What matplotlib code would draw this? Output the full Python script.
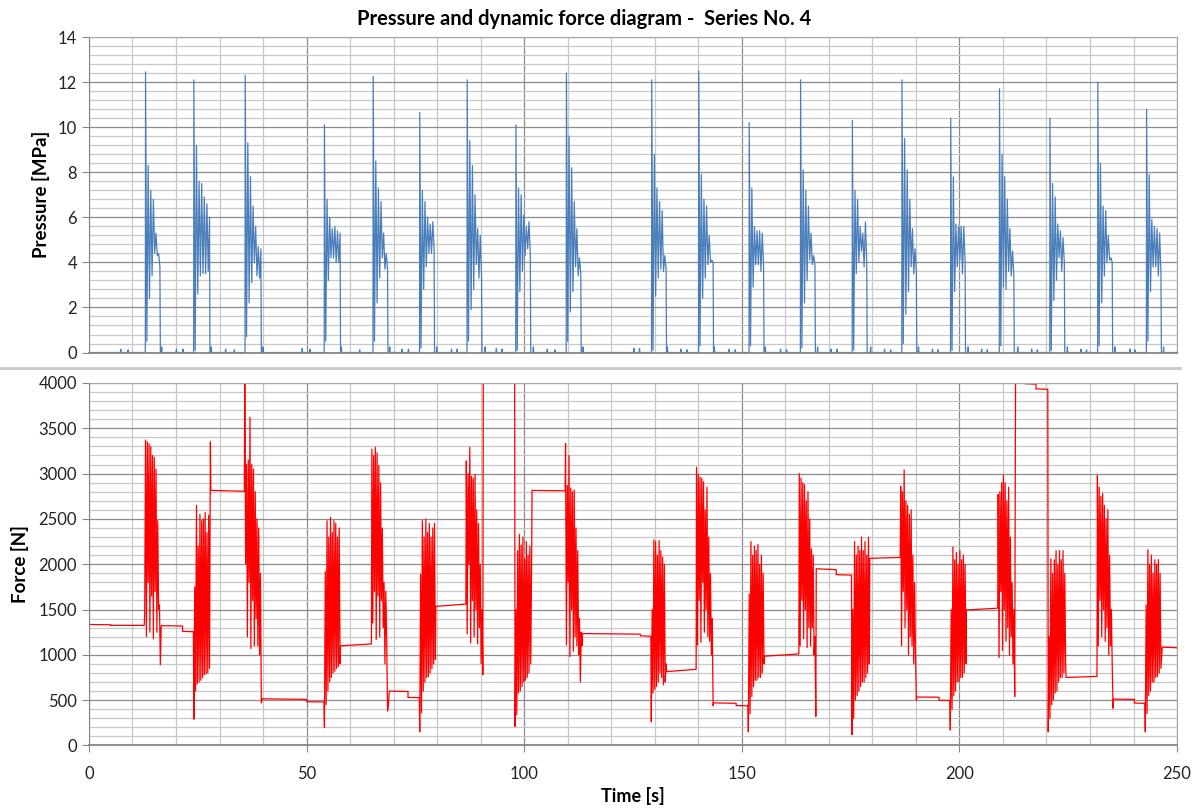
import numpy as np
import matplotlib.pyplot as plt
from matplotlib.lines import Line2D
from matplotlib.ticker import MultipleLocator

# ---- pressure data [MPa] ----
# burst start times [s] and sampled values (sample step 0.3 s)
p_start = [13.0, 24.1, 35.9, 54.1, 65.3, 76.0, 86.9, 98.1, 109.7, 129.3,
           140.1, 151.7, 163.5, 175.4, 186.8, 198.0, 209.2, 220.8, 231.8, 243.0]
p_bursts = [
    [12.45, 0.5, 8.3, 2.4, 7.2, 3.4, 6.8, 4.4, 5.3, 4.3, 4.4, 3.8],
    [12.1, 0.1, 9.2, 2.6, 7.6, 3.4, 7.5, 3.5, 6.9, 3.5, 6.6, 3.6, 6.0],
    [12.3, 0.7, 9.3, 2.2, 7.8, 3.1, 6.5, 4.0, 5.6, 3.4, 4.7, 3.3, 4.6],
    [10.1, 0.5, 6.8, 3.2, 6.0, 4.2, 5.5, 4.2, 5.6, 4.0, 5.4, 4.0, 5.3],
    [12.25, 0.5, 8.5, 2.2, 7.3, 3.3, 6.7, 4.2, 5.3, 3.7, 4.4, 3.7],
    [10.65, 0.2, 7.2, 2.8, 6.7, 3.8, 6.0, 4.4, 5.7, 4.4, 5.8, 4.6],
    [12.1, 0.5, 9.4, 1.9, 8.3, 2.8, 7.0, 3.9, 5.5, 3.3, 5.2, 3.4],
    [10.1, 0.1, 7.3, 2.7, 7.0, 3.6, 6.1, 4.3, 5.6, 4.6, 5.8, 4.4],
    [12.4, 0.5, 9.6, 1.8, 8.2, 2.7, 6.7, 3.8, 5.5, 3.4, 4.2, 3.5],
    [12.1, 0.1, 8.8, 2.5, 7.3, 3.3, 6.7, 3.7, 6.3, 3.6, 4.3, 3.7],
    [12.5, 0.3, 7.9, 2.4, 6.8, 3.3, 6.5, 3.9, 5.2, 4.0, 4.1, 4.0],
    [10.2, 0.3, 7.3, 2.9, 5.6, 3.9, 5.4, 3.9, 5.4, 3.6, 5.3, 3.8],
    [12.1, 0.2, 8.1, 2.2, 7.2, 3.2, 6.5, 4.1, 5.3, 3.9, 4.3, 3.9],
    [10.3, 0.1, 7.2, 3.5, 6.8, 4.0, 5.6, 4.5, 5.3, 3.8, 5.8, 4.0],
    [12.1, 0.4, 9.5, 1.7, 8.1, 2.7, 6.8, 3.8, 5.5, 3.5, 4.6, 3.6],
    [10.4, 0.1, 7.8, 2.7, 5.7, 3.8, 5.6, 4.1, 5.6, 3.5, 5.6, 4.0],
    [11.7, 0.3, 8.8, 2.9, 7.8, 2.8, 6.8, 3.6, 5.5, 3.4, 4.5, 3.4],
    [10.4, 0.1, 7.5, 2.3, 6.9, 3.2, 5.7, 4.2, 5.4, 3.6, 5.1, 4.0],
    [12.0, 0.3, 8.4, 2.2, 6.5, 3.4, 6.3, 4.0, 5.2, 4.1, 4.2, 4.0],
    [10.8, 0.5, 7.9, 2.7, 5.9, 3.8, 5.6, 3.8, 5.5, 3.4, 5.3, 3.5],
]
p_step = 0.3

# small pressure blips between bursts
blip_t = [7.3, 9.0, 16.7, 20.1, 21.6, 28.1, 31.4, 33.4, 40.0, 49.0, 50.8,
          58.0, 62.2, 69.1, 71.9, 73.4, 79.9, 83.3, 84.6, 91.0, 93.6, 94.9,
          102.1, 105.3, 107.1, 113.5, 125.2, 126.5, 132.9, 136.0, 137.4,
          143.7, 147.1, 148.5, 155.4, 158.9, 160.3, 167.4, 170.5, 171.9,
          179.6, 182.8, 184.2, 190.6, 193.8, 195.1, 202.0, 205.1, 206.4,
          213.4, 216.6, 217.9, 224.8, 227.9, 229.2, 235.7, 239.2, 240.3, 246.9]
blip_h = [0.15, 0.12, 0.25, 0.15, 0.15, 0.25, 0.15, 0.12, 0.25, 0.18, 0.15,
          0.25, 0.12, 0.25, 0.15, 0.15, 0.25, 0.15, 0.15, 0.25, 0.18, 0.15,
          0.25, 0.15, 0.12, 0.25, 0.18, 0.18, 0.25, 0.15, 0.12,
          0.25, 0.15, 0.12, 0.25, 0.15, 0.12, 0.25, 0.15, 0.15,
          0.25, 0.15, 0.12, 0.25, 0.15, 0.12, 0.25, 0.15, 0.12,
          0.25, 0.15, 0.12, 0.25, 0.15, 0.12, 0.25, 0.15, 0.12, 0.25]

# ---- force data [N] ----
# constant-ish levels between bursts: (t_start, t_end, F_start, F_end)
f_levels = [
    (0.0, 5.0, 1335, 1332), (5.0, 12.7, 1326, 1325),
    (16.7, 21.5, 1322, 1318), (21.5, 24.0, 1260, 1255),
    (28.0, 35.7, 2815, 2805),
    (39.8, 50.0, 515, 508), (50.0, 54.0, 482, 480),
    (57.8, 64.9, 1100, 1120),
    (69.0, 73.3, 600, 595), (73.3, 75.9, 530, 528),
    (79.7, 86.6, 1535, 1560),
    (90.6, 97.8, 4300, 4300),
    (101.8, 109.4, 2815, 2810),
    (113.4, 126.7, 1235, 1228), (126.7, 129.1, 1210, 1205),
    (132.7, 139.5, 815, 840),
    (143.5, 148.7, 470, 465), (148.7, 151.4, 440, 438),
    (155.2, 163.1, 985, 1010),
    (167.1, 171.7, 1950, 1940), (171.7, 175.2, 1885, 1880),
    (179.4, 186.4, 2065, 2075),
    (190.2, 195.3, 535, 532), (195.3, 197.8, 498, 497),
    (201.6, 208.8, 1495, 1515),
    (212.9, 215.1, 4300, 4300), (215.1, 217.6, 3992, 3988), (217.6, 220.3, 3935, 3930),
    (224.5, 231.6, 750, 762),
    (235.4, 240.2, 512, 508), (240.2, 242.6, 468, 465),
    (246.6, 250.0, 1085, 1078),
]
# burst start times [s] and sampled values (sample step 0.2 s)
f_start = [12.8, 24.1, 35.8, 54.1, 65.0, 76.0, 86.7, 97.9, 109.5, 129.2,
           139.6, 151.5, 163.2, 175.3, 186.5, 197.9, 208.9, 220.4, 231.7, 242.7]
f_bursts = [
    [1450, 3370, 1200, 3350, 1800, 3330, 1250, 3300, 1650, 3200, 1180, 3180, 1700, 3050, 1250, 2480, 1500, 1550, 890, 1320],
    [290, 1750, 600, 2650, 680, 2200, 700, 2550, 720, 2480, 750, 2500, 780, 2570, 790, 2350, 800, 2540, 850, 3350],
    [4300, 2000, 3100, 1200, 3150, 1800, 3620, 1070, 3100, 1600, 3050, 1100, 2800, 1400, 2500, 1100, 2400, 1000, 1900, 470],
    [200, 1920, 450, 2480, 600, 2300, 700, 2520, 750, 2350, 800, 2480, 820, 2450, 850, 2300, 870, 2400, 900],
    [3270, 1350, 3200, 1700, 3290, 1170, 3230, 1650, 3090, 1200, 2900, 1600, 2400, 1300, 1800, 900, 1700, 1200, 380, 450],
    [150, 1890, 360, 2480, 600, 2300, 700, 2500, 750, 2350, 760, 2450, 800, 2300, 850, 2400, 900, 2450, 950],
    [3140, 1230, 3000, 2000, 3290, 1130, 2970, 1600, 2950, 1200, 2990, 1500, 2600, 1120, 2450, 1300, 2000, 900, 1500, 780],
    [210, 1500, 340, 2150, 580, 2330, 600, 2210, 650, 2300, 700, 2060, 720, 2250, 750, 2100, 800, 2200, 900, 2000],
    [3330, 1110, 2870, 1800, 3200, 980, 2840, 1500, 2800, 1040, 2820, 1200, 2400, 1100, 2150, 1000, 1400, 700, 1250, 1100],
    [260, 1500, 580, 2270, 620, 2250, 650, 2100, 700, 2260, 800, 2150, 750, 2080, 670, 2000, 700, 900],
    [3070, 1110, 2990, 1600, 2960, 1140, 2950, 1800, 2910, 1250, 2600, 1500, 2850, 1200, 2300, 1150, 1900, 1000, 1400, 440],
    [150, 1670, 350, 2250, 540, 2100, 650, 2200, 720, 2150, 720, 2220, 750, 2000, 750, 2100, 800, 1900, 900],
    [3000, 1100, 2950, 1600, 2900, 1180, 2880, 1500, 2700, 1080, 2800, 1300, 2500, 1100, 2170, 1300, 2100, 1000, 1200, 320],
    [120, 1500, 300, 2250, 500, 2100, 550, 2200, 600, 2150, 650, 2300, 700, 2150, 700, 2250, 750, 2100, 800, 2300, 900],
    [2860, 1100, 2800, 1700, 3040, 1300, 2700, 1500, 2650, 1000, 2550, 1200, 2600, 1100, 2100, 900, 1800, 1000, 500],
    [170, 1500, 400, 2190, 550, 2050, 600, 2130, 700, 2000, 700, 2150, 750, 2050, 750, 2100, 800, 2000, 900],
    [2770, 970, 2800, 1700, 2900, 1050, 2980, 1500, 2900, 1150, 2700, 1300, 2850, 1000, 2300, 1200, 1800, 900, 1500, 540],
    [150, 1200, 300, 2060, 450, 1900, 500, 2050, 580, 2150, 600, 2000, 700, 2150, 750, 2050, 750, 2150, 800, 1900, 900],
    [2980, 1100, 2850, 1600, 2750, 1200, 2780, 1500, 2650, 1150, 2500, 1300, 2600, 1000, 2100, 1100, 1500, 900, 410],
    [150, 1550, 350, 2160, 550, 2000, 600, 2100, 700, 1900, 700, 2050, 750, 2000, 760, 2050, 800, 1900, 850, 1000],
]
f_step = 0.2


def pressure_series():
    pts = [(0.0, 0.0), (250.0, 0.0)]
    for t0, vals in zip(p_start, p_bursts):
        pts.append((t0 - 0.05, 0.0))
        for i, v in enumerate(vals):
            pts.append((t0 + i * p_step, v))
        pts.append((t0 + (len(vals) - 1) * p_step + 0.1, 0.0))
    for tb, hb in zip(blip_t, blip_h):
        pts += [(tb - 0.08, 0.0), (tb, hb), (tb + 0.08, 0.0)]
    pts.sort(key=lambda p: p[0])
    return np.array([p[0] for p in pts]), np.array([p[1] for p in pts])


def force_series():
    pts = []
    for ta, tb, fa, fb in f_levels:
        pts += [(ta, fa), (tb, fb)]
    for t0, vals in zip(f_start, f_bursts):
        for i, v in enumerate(vals):
            pts.append((t0 + i * f_step, v))
    pts.sort(key=lambda p: p[0])
    return np.array([p[0] for p in pts]), np.array([p[1] for p in pts])


def style_axis(ax, ymax, ymaj, ymin):
    ax.set_xlim(0, 250)
    ax.set_ylim(0, ymax)
    ax.xaxis.set_major_locator(MultipleLocator(50))
    ax.xaxis.set_minor_locator(MultipleLocator(10))
    ax.yaxis.set_major_locator(MultipleLocator(ymaj))
    ax.yaxis.set_minor_locator(MultipleLocator(ymin))
    ax.grid(which='minor', color='#C8C8C8', lw=0.9)
    ax.grid(which='major', color='#8C8C8C', lw=0.9)
    ax.set_axisbelow(True)
    for s in ax.spines.values():
        s.set_color('#A6A6A6')
    ax.spines['left'].set_color('#868686')
    ax.spines['bottom'].set_color('#868686')
    ax.spines['bottom'].set_linewidth(1.3)
    ax.tick_params(which='major', length=5, color='#868686', labelsize=12,
                   labelcolor='#222222')
    ax.tick_params(axis='x', which='major', pad=10)
    ax.tick_params(which='minor', length=0)


plt.rcParams['font.family'] = ['Lato', 'DejaVu Sans']
fig = plt.figure(figsize=(11.99, 8.08), dpi=100)

ax1 = fig.add_axes([0.0742, 0.5637, 0.9075, 0.3905])
tp, pv = pressure_series()
ax1.plot(tp, pv, color='#4A7EBB', lw=0.9)
style_axis(ax1, 14, 2, 0.4)
ax1.tick_params(axis='x', which='both', length=0, labelbottom=False)
ax1.set_ylabel('Pressure [MPa]', fontsize=13.5, fontweight='bold')
ax1.yaxis.set_label_coords(-0.036, 0.5)

ax2 = fig.add_axes([0.0742, 0.0774, 0.9075, 0.4486])
tf, fv = force_series()
ax2.plot(tf, fv, color='#FF0000', lw=0.9)
style_axis(ax2, 4000, 500, 100)
ax2.set_ylabel('Force [N]', fontsize=13.5, fontweight='bold')
ax2.yaxis.set_label_coords(-0.055, 0.5)
ax2.set_xlabel('Time [s]', fontsize=13, fontweight='bold', va='center')
ax2.xaxis.set_label_coords(0.5, -0.14)

fig.add_artist(Line2D([0.0, 0.984], [0.545, 0.545], transform=fig.transFigure,
                      color='#C8C8C8', lw=2))
fig.text(0.487, 0.977, 'Pressure and dynamic force diagram -  Series No. 4',
         ha='center', va='center', fontsize=14.5, fontweight='bold')

plt.savefig('out.png', dpi=100)
